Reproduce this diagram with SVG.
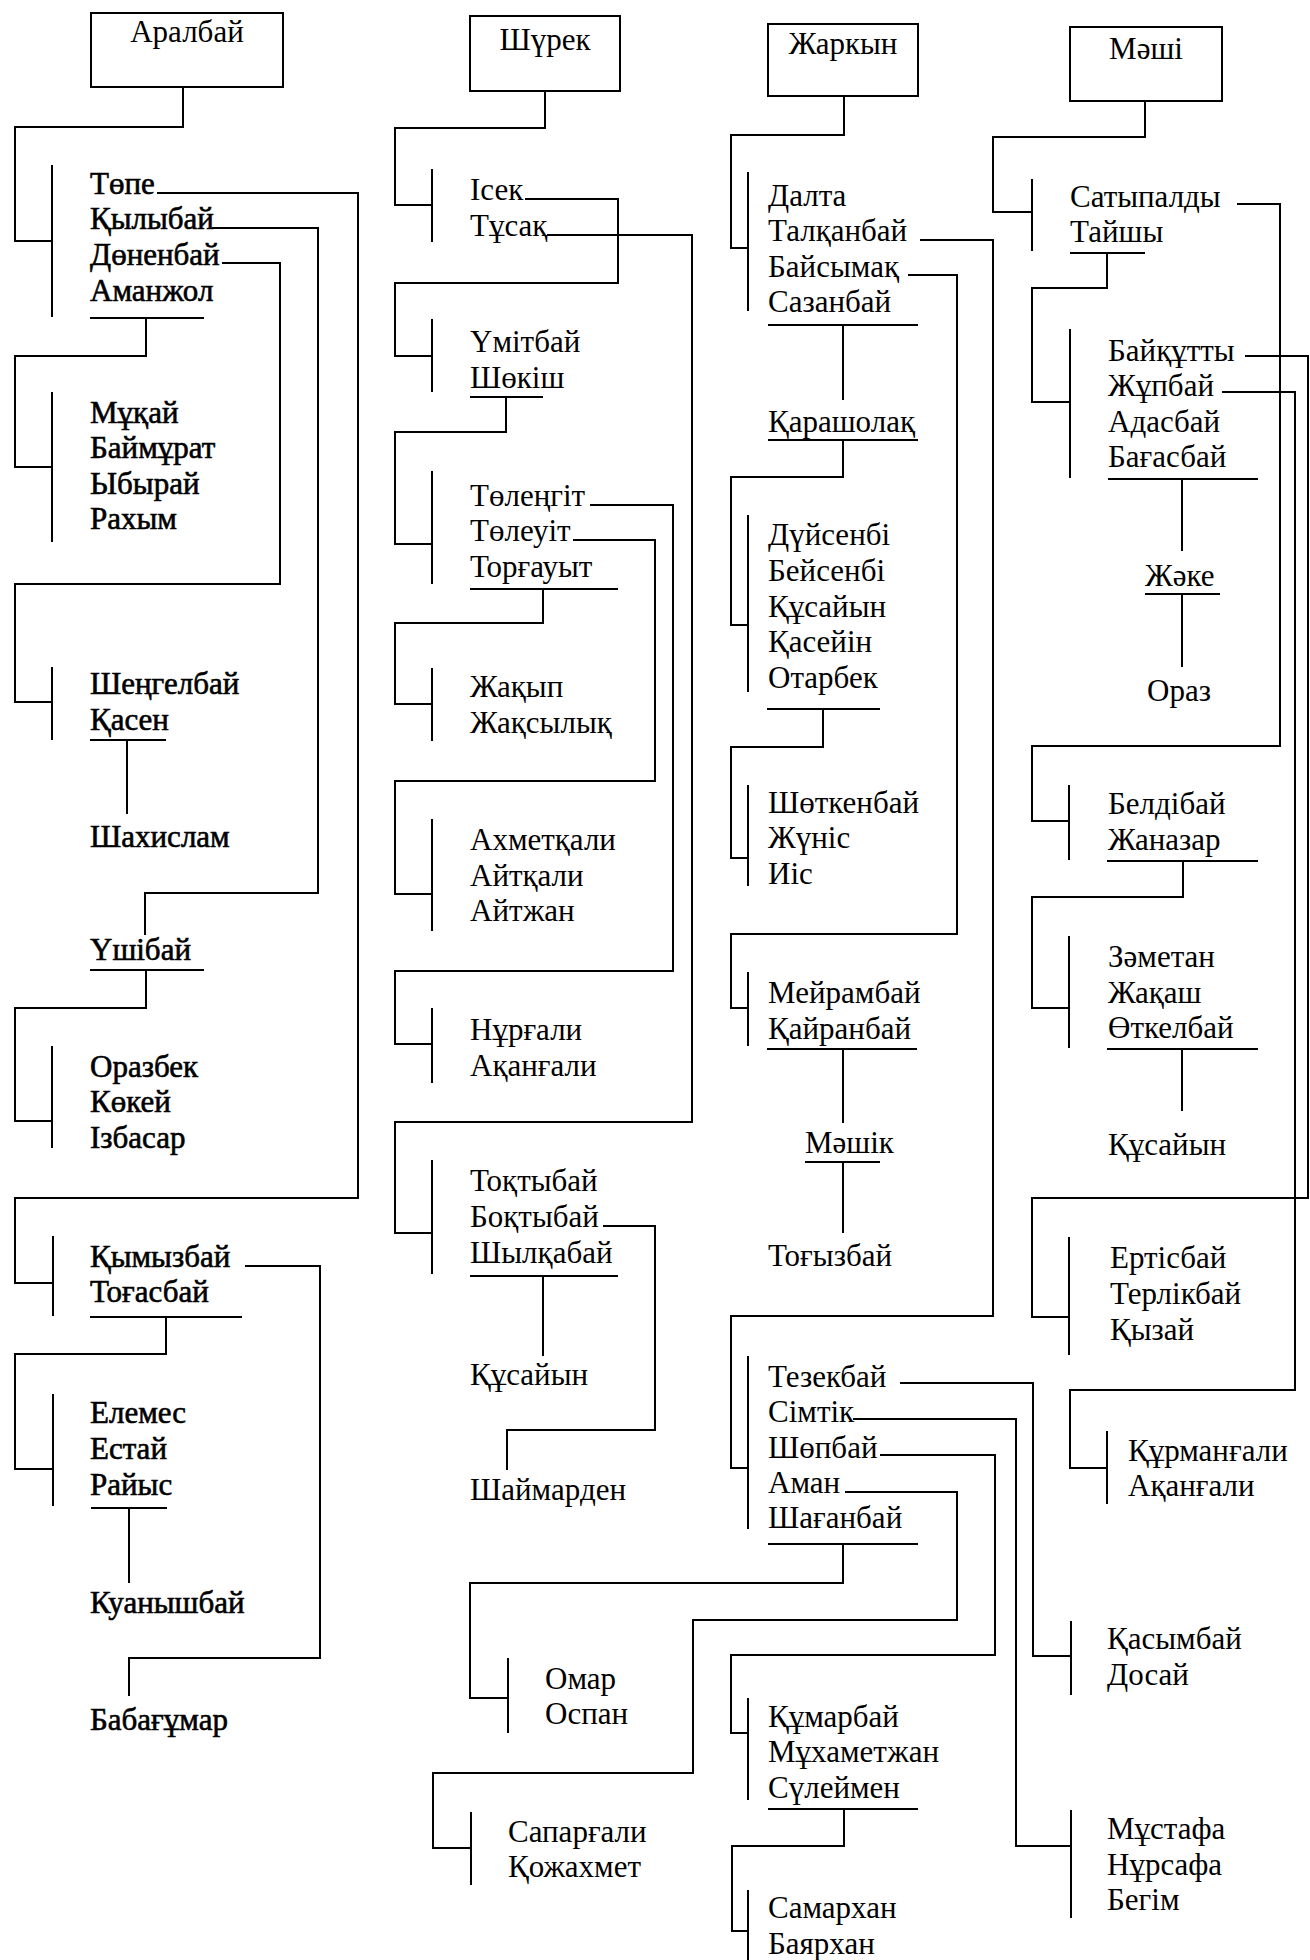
<svg xmlns="http://www.w3.org/2000/svg" width="1310" height="1960" viewBox="0 0 1310 1960">
<style>
.t{font-family:"Liberation Serif","Times New Roman",serif;font-size:31px;fill:#000}
.bd{stroke:#000;stroke-width:0.6}
.h{text-anchor:middle}
.box{fill:#fff;stroke:#000;stroke-width:2}
.c path{fill:none;stroke:#000;stroke-width:2}
</style>
<rect width="1310" height="1960" fill="#fff"/>
<g id="connectors" class="c">
<!-- Column 1 -->
<path d="M183 87V127H15V241H52"/><path d="M52 165V317"/>
<path d="M157 193H358V1198H15V1283H53"/><path d="M53 1236V1316"/>
<path d="M212 228H318V893H145V935"/>
<path d="M222 263H280V584H15V702H52"/><path d="M52 667V740"/>
<path d="M90 318H204"/><path d="M146 318V356H15V467H52"/><path d="M52 392V542"/>
<path d="M90 740H166"/><path d="M127 740V814"/>
<path d="M90 970H204"/><path d="M146 970V1008H15V1121H52"/><path d="M52 1046V1148"/>
<path d="M90 1317H242"/><path d="M166 1317V1354H15V1469H53"/><path d="M53 1394V1506"/>
<path d="M245 1266H320V1658H129V1696"/>
<path d="M91 1508H167"/><path d="M129 1508V1583"/>
<!-- Column 2 -->
<path d="M545 91V128H395V205H432"/><path d="M432 169V242"/>
<path d="M525 199H618V283H395V356H432"/><path d="M432 319V392"/>
<path d="M547 235H692V1122H395V1233H432"/><path d="M432 1160V1274"/>
<path d="M470 397H543"/><path d="M506 397V432H395V544H432"/><path d="M432 471V584"/>
<path d="M590 505H673V971H395V1044H432"/><path d="M432 1008V1083"/>
<path d="M573 540H655V781H395V894H432"/><path d="M432 819V931"/>
<path d="M470 589H618"/><path d="M543 589V623H395V704H432"/><path d="M432 668V741"/>
<path d="M603 1226H655V1430H507V1470"/>
<path d="M470 1276H618"/><path d="M543 1276V1356"/>
<!-- Column 3 -->
<path d="M844 96V135H731V248H748"/><path d="M748 172V311"/>
<path d="M768 325H918"/><path d="M843 325V400"/>
<path d="M768 440H918"/><path d="M843 440V477H731V625H748"/><path d="M748 515V692"/>
<path d="M767 709H880"/><path d="M823 709V747H731V858H748"/><path d="M748 785V886"/>
<path d="M908 275H957V934H731V1008H748"/><path d="M748 972V1046"/>
<path d="M767 1049H917"/><path d="M843 1049V1123"/>
<path d="M805 1162H880"/><path d="M843 1162V1233"/>
<path d="M920 240H993V1316H731V1468H748"/><path d="M748 1356V1529"/>
<path d="M900 1383H1033V1656H1071"/><path d="M1071 1621V1695"/>
<path d="M853 1419H1016V1846H1071"/><path d="M1071 1810V1918"/>
<path d="M880 1455H995V1655H731V1733H748"/><path d="M748 1698V1800"/>
<path d="M845 1492H957V1620H693V1773H433V1848H471"/><path d="M471 1812V1885"/>
<path d="M768 1544H918"/><path d="M843 1544V1583H470V1698H508"/><path d="M508 1658V1733"/>
<path d="M768 1809H918"/><path d="M844 1809V1846H732V1931H748"/><path d="M748 1890V1960"/>
<!-- Column 4 -->
<path d="M1145 101V137H993V212H1032"/><path d="M1032 179V251"/>
<path d="M1237 204H1280V746H1032V821H1069"/><path d="M1069 785V860"/>
<path d="M1070 253H1145"/><path d="M1107 253V288H1032V402H1070"/><path d="M1070 329V478"/>
<path d="M1245 356H1308V1198H1032V1317H1069"/><path d="M1069 1237V1355"/>
<path d="M1222 392H1295V1390H1070V1468H1107"/><path d="M1107 1431V1504"/>
<path d="M1108 479H1258"/><path d="M1182 479V551"/>
<path d="M1145 594H1220"/><path d="M1182 594V667"/>
<path d="M1107 861H1258"/><path d="M1183 861V897H1032V1008H1069"/><path d="M1069 936V1048"/>
<path d="M1107 1049H1258"/><path d="M1182 1049V1111"/>
</g>
<!-- Column 1 nodes -->
<g id="aralbai"><rect class="box" x="91" y="13" width="192" height="74"/><text class="t h" x="187" y="42">Аралбай</text></g>
<g id="tope" class="t bd"><text x="90" y="194">Төпе</text><text x="90" y="229">Қылыбай</text><text x="90" y="265">Дөненбай</text><text x="90" y="301">Аманжол</text></g>
<g id="mukai" class="t bd"><text x="90" y="423">Мұқай</text><text x="90" y="458">Баймұрат</text><text x="90" y="494">Ыбырай</text><text x="90" y="529">Рахым</text></g>
<g id="shengelbai" class="t bd"><text x="90" y="694">Шеңгелбай</text><text x="90" y="730">Қасен</text></g>
<g id="shakhislam" class="t bd"><text x="90" y="847">Шахислам</text></g>
<g id="ushibai" class="t bd"><text x="90" y="960">Үшібай</text></g>
<g id="orazbek" class="t bd"><text x="90" y="1077">Оразбек</text><text x="90" y="1112">Көкей</text><text x="90" y="1148">Ізбасар</text></g>
<g id="kymyzbai" class="t bd"><text x="90" y="1267">Қымызбай</text><text x="90" y="1302">Тоғасбай</text></g>
<g id="elemes" class="t bd"><text x="90" y="1423">Елемес</text><text x="90" y="1459">Естай</text><text x="90" y="1495">Райыс</text></g>
<g id="kuanyshbai" class="t bd"><text x="90" y="1613">Куанышбай</text></g>
<g id="babagumar" class="t bd"><text x="90" y="1730">Бабағұмар</text></g>
<!-- Column 2 nodes -->
<g id="shurek"><rect class="box" x="470" y="16" width="150" height="75"/><text class="t h" x="545" y="50">Шүрек</text></g>
<g id="isek" class="t"><text x="470" y="200">Ісек</text><text x="470" y="236">Тұсақ</text></g>
<g id="umitbai" class="t"><text x="470" y="352">Үмітбай</text><text x="470" y="388">Шөкіш</text></g>
<g id="tolengit" class="t"><text x="470" y="506">Төлеңгіт</text><text x="470" y="541">Төлеуіт</text><text x="470" y="577">Торғауыт</text></g>
<g id="zhakyp" class="t"><text x="470" y="697">Жақып</text><text x="470" y="733">Жақсылық</text></g>
<g id="akhmetkali" class="t"><text x="470" y="850">Ахметқали</text><text x="470" y="886">Айтқали</text><text x="470" y="921">Айтжан</text></g>
<g id="nurgali" class="t"><text x="470" y="1040">Нұрғали</text><text x="470" y="1076">Ақанғали</text></g>
<g id="toktybai" class="t"><text x="470" y="1191">Тоқтыбай</text><text x="470" y="1227">Боқтыбай</text><text x="470" y="1263">Шылқабай</text></g>
<g id="kusaiyn2" class="t"><text x="470" y="1385">Құсайын</text></g>
<g id="shaimarden" class="t"><text x="470" y="1500">Шаймарден</text></g>
<g id="omar" class="t"><text x="545" y="1689">Омар</text><text x="545" y="1724">Оспан</text></g>
<g id="sapargali" class="t"><text x="508" y="1842">Сапарғали</text><text x="508" y="1877">Қожахмет</text></g>
<!-- Column 3 nodes -->
<g id="zharkyn"><rect class="box" x="768" y="24" width="150" height="72"/><text class="t h" x="843" y="54">Жаркын</text></g>
<g id="dalta" class="t"><text x="768" y="206">Далта</text><text x="768" y="241">Талқанбай</text><text x="768" y="277">Байсымақ</text><text x="768" y="312">Сазанбай</text></g>
<g id="karasholak" class="t"><text x="768" y="432">Қарашолақ</text></g>
<g id="duisenbi" class="t"><text x="768" y="545">Дүйсенбі</text><text x="768" y="581">Бейсенбі</text><text x="768" y="617">Құсайын</text><text x="768" y="652">Қасейін</text><text x="768" y="688">Отарбек</text></g>
<g id="shotkenbai" class="t"><text x="768" y="813">Шөткенбай</text><text x="768" y="848">Жүніс</text><text x="768" y="884">Иіс</text></g>
<g id="meirambai" class="t"><text x="768" y="1003">Мейрамбай</text><text x="768" y="1039">Қайранбай</text></g>
<g id="mashik" class="t"><text x="805" y="1153">Мәшік</text></g>
<g id="togyzbai" class="t"><text x="768" y="1266">Тоғызбай</text></g>
<g id="tezekbai" class="t"><text x="768" y="1387">Тезекбай</text><text x="768" y="1422">Сімтік</text><text x="768" y="1458">Шөпбай</text><text x="768" y="1493">Аман</text><text x="768" y="1528">Шағанбай</text></g>
<g id="kumarbai" class="t"><text x="768" y="1727">Құмарбай</text><text x="768" y="1762">Мұхаметжан</text><text x="768" y="1798">Сүлеймен</text></g>
<g id="samarkhan" class="t"><text x="768" y="1918">Самархан</text><text x="768" y="1954">Баярхан</text></g>
<!-- Column 4 nodes -->
<g id="mashi"><rect class="box" x="1070" y="27" width="152" height="74"/><text class="t h" x="1146" y="59">Мәші</text></g>
<g id="satypaldy" class="t"><text x="1070" y="207">Сатыпалды</text><text x="1070" y="242">Тайшы</text></g>
<g id="baikutty" class="t"><text x="1108" y="361">Байқұтты</text><text x="1108" y="396">Жұпбай</text><text x="1108" y="432">Адасбай</text><text x="1108" y="467">Бағасбай</text></g>
<g id="zhake" class="t"><text x="1145" y="586">Жәке</text></g>
<g id="oraz" class="t"><text x="1147" y="701">Ораз</text></g>
<g id="beldibai" class="t"><text x="1108" y="814">Белдібай</text><text x="1108" y="850">Жаназар</text></g>
<g id="zametan" class="t"><text x="1108" y="967">Зәметан</text><text x="1108" y="1003">Жақаш</text><text x="1108" y="1038">Өткелбай</text></g>
<g id="kusaiyn4" class="t"><text x="1108" y="1155">Құсайын</text></g>
<g id="ertisbai" class="t"><text x="1110" y="1268">Ертісбай</text><text x="1110" y="1304">Терлікбай</text><text x="1110" y="1340">Қызай</text></g>
<g id="kurmangali" class="t"><text x="1128" y="1461">Құрманғали</text><text x="1128" y="1496">Ақанғали</text></g>
<g id="kasymbai" class="t"><text x="1107" y="1649">Қасымбай</text><text x="1107" y="1685">Досай</text></g>
<g id="mustafa" class="t"><text x="1107" y="1839">Мұстафа</text><text x="1107" y="1875">Нұрсафа</text><text x="1107" y="1910">Бегім</text></g>
</svg>
